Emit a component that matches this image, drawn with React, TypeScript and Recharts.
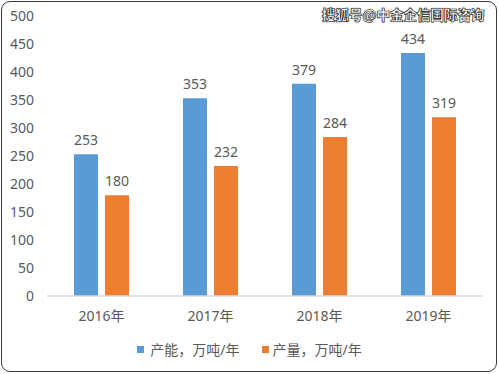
import { BarChart, Bar, XAxis, YAxis, LabelList } from 'recharts'

const years = ['2016年', '2017年', '2018年', '2019年']
const capacity = [253, 353, 379, 434]
const output = [180, 232, 284, 319]
const yTicks = [0, 50, 100, 150, 200, 250, 300, 350, 400, 450, 500]

const capacityName = '产能，万吨/年'
const outputName = '产量，万吨/年'

const data = years.map((year, i) => ({
  year,
  capacity: capacity[i],
  output: output[i],
}))

const textColor = '#595959'
const font = '"Noto Sans", "Noto Sans CJK SC", sans-serif'

export default function App() {
  return (
    <div style={{ position: 'absolute', left: 0, top: 0, width: 499, height: 374, background: '#fff' }}>
      <div
        style={{
          position: 'absolute', left: 1, top: 1, width: 494, height: 369,
          border: '1.5px solid #3a3a3a', borderRadius: 9, boxSizing: 'content-box',
        }}
      />
      <BarChart
        width={499}
        height={374}
        data={data}
        margin={{ top: 16, right: 16, bottom: 48, left: 10 }}
        barCategoryGap={27}
        barGap={7}
      >
        <XAxis
          dataKey="year"
          height={30}
          axisLine={{ stroke: '#D9D9D9', strokeWidth: 1.5 }}
          tickLine={false}
          tickSize={0}
          tickMargin={15}
          tick={{ fill: textColor, fontSize: 14, fontFamily: font }}
        />
        <YAxis
          width={37}
          domain={[0, 500]}
          ticks={yTicks}
          axisLine={false}
          tickLine={false}
          tickSize={0}
          tickMargin={13}
          tick={{ fill: textColor, fontSize: 14, fontFamily: font }}
        />
        <Bar dataKey="capacity" name={capacityName} fill="#5B9BD5" barSize={24} isAnimationActive={false}>
          <LabelList dataKey="capacity" position="top" offset={9} fill={textColor} fontSize={14} fontFamily={font} />
        </Bar>
        <Bar dataKey="output" name={outputName} fill="#ED7D31" barSize={24} isAnimationActive={false}>
          <LabelList dataKey="output" position="top" offset={9} fill={textColor} fontSize={14} fontFamily={font} />
        </Bar>
      </BarChart>
      {/* legend drawn outside the chart so it doesn't shrink the plot */}
      <div
        style={{
          position: 'absolute', left: 0, top: 339, width: 499, display: 'flex', justifyContent: 'center',
          alignItems: 'center', fontFamily: font, fontSize: 14, color: textColor,
        }}
      >
        <span style={{ display: 'inline-block', width: 7, height: 7, background: '#5B9BD5', marginRight: 6 }} />
        <span style={{ marginRight: 22 }}>{capacityName}</span>
        <span style={{ display: 'inline-block', width: 7, height: 7, background: '#ED7D31', marginRight: 4 }} />
        <span>{outputName}</span>
      </div>
      <div
        style={{
          position: 'absolute', left: 322, top: 4, fontFamily: '"Noto Sans CJK SC", sans-serif',
          fontWeight: 900, fontSize: 13.5, color: '#fff', WebkitTextStroke: '0.6px #222',
          textShadow: '0 0 1px #222',
        }}
      >
        搜狐号@中金企信国际咨询
      </div>
    </div>
  )
}
